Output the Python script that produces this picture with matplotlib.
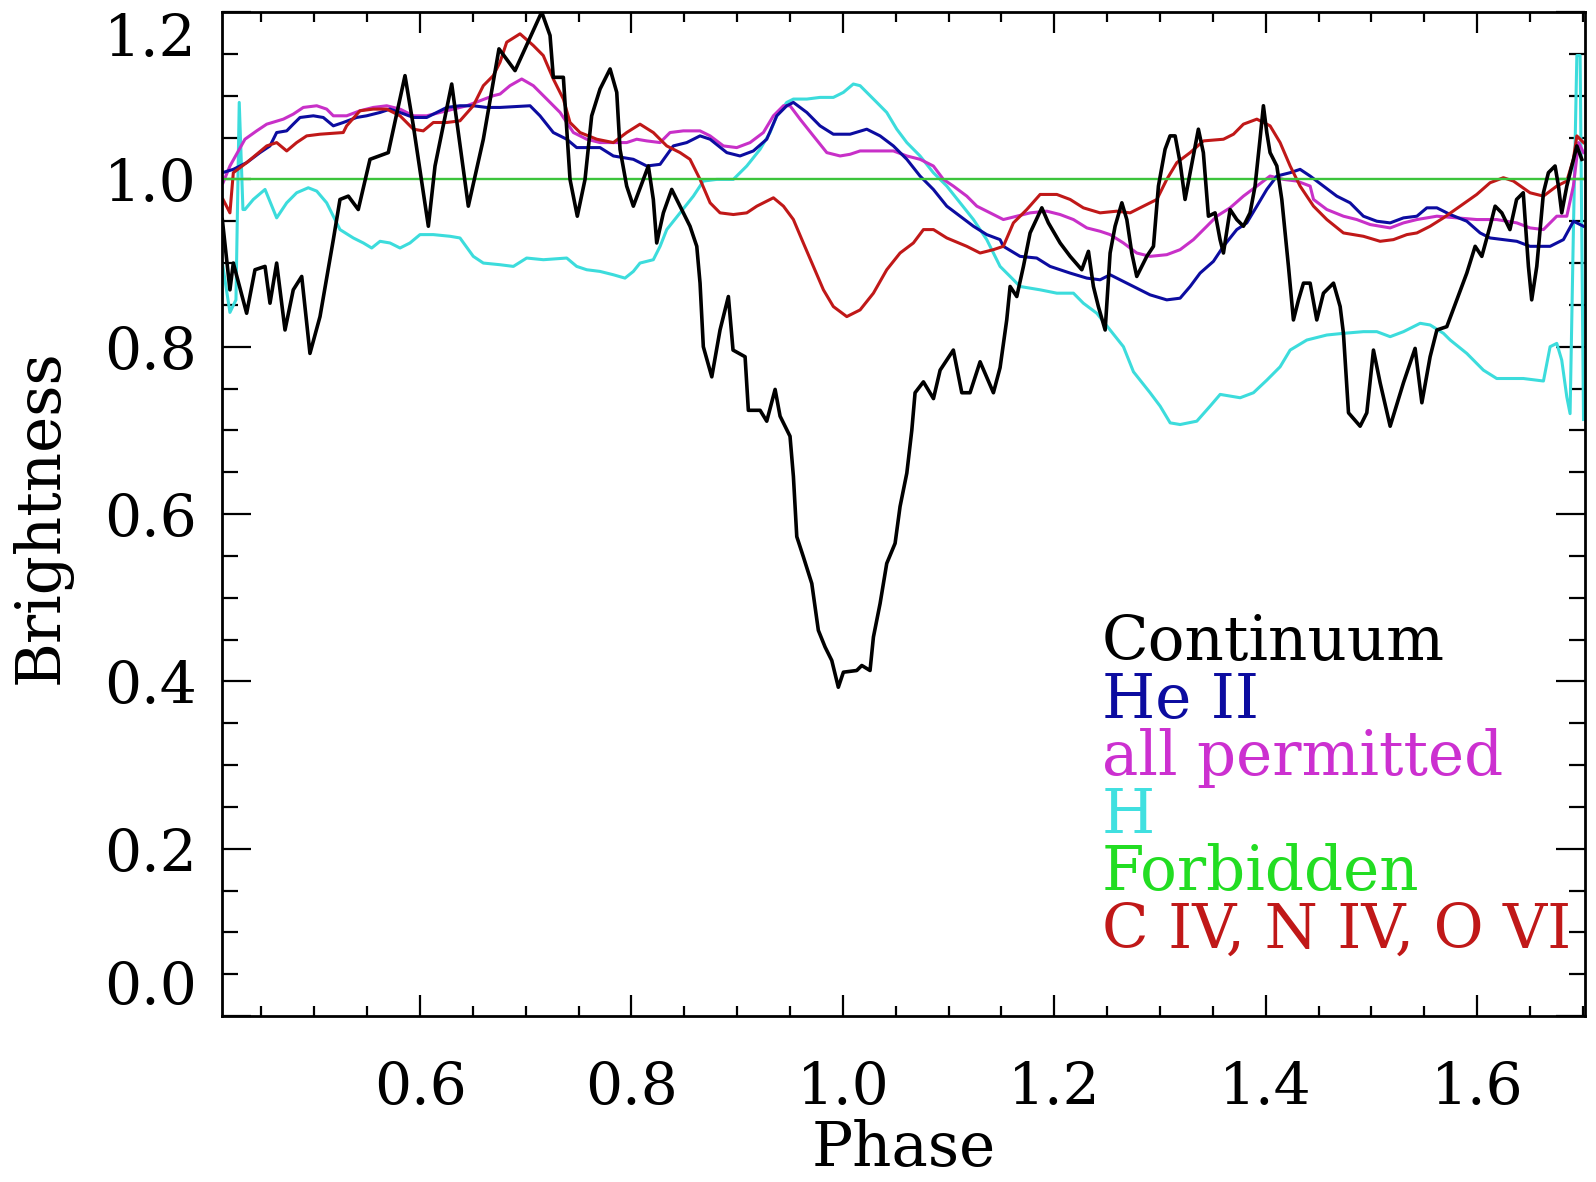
#!/usr/bin/env python3
# -*- coding: utf-8 -*-

import matplotlib
matplotlib.use('Agg')
import matplotlib.pyplot as plt
from matplotlib.ticker import MultipleLocator

# Continuum
cont_phase = [0.4130, 0.4202, 0.4234, 0.4360, 0.4439, 0.4534, 0.4581, 0.4644, 0.4723, 0.4801,
              0.4881, 0.4959, 0.5054, 0.5180, 0.5243, 0.5322, 0.5416, 0.5527, 0.5700, 0.5858,
              0.5937, 0.6079, 0.6142, 0.6300, 0.6457, 0.6599, 0.6747, 0.6899, 0.7151, 0.7230,
              0.7261, 0.7356, 0.7419, 0.7488, 0.7561, 0.7624, 0.7703, 0.7798, 0.7861, 0.7892,
              0.7955, 0.8018, 0.8113, 0.8160, 0.8207, 0.8239, 0.8302, 0.8381, 0.8476, 0.8554,
              0.8618, 0.8649, 0.8680, 0.8760, 0.8838, 0.8917, 0.8961, 0.9075, 0.9106, 0.9217,
              0.9280, 0.9359, 0.9406, 0.9500, 0.9532, 0.9564, 0.9626, 0.9706, 0.9768, 0.9832,
              0.9895, 0.9957, 1.0005, 1.0131, 1.0179, 1.0257, 1.0289, 1.0352, 1.0415, 1.0494,
              1.0541, 1.0605, 1.0652, 1.0683, 1.0762, 1.0857, 1.0920, 1.1045, 1.1125, 1.1203,
              1.1298, 1.1424, 1.1487, 1.1550, 1.1582, 1.1645, 1.1708, 1.1771, 1.1882, 1.1944,
              1.2055, 1.2150, 1.2260, 1.2323, 1.2370, 1.2417, 1.2481, 1.2528, 1.2575, 1.2639,
              1.2686, 1.2733, 1.2780, 1.2875, 1.2938, 1.2985, 1.3048, 1.3095, 1.3143, 1.3190,
              1.3237, 1.3285, 1.3363, 1.3410, 1.3458, 1.3521, 1.3568, 1.3600, 1.3663, 1.3726,
              1.3789, 1.3852, 1.3899, 1.3946, 1.3978, 1.4010, 1.4041, 1.4105, 1.4152, 1.4183,
              1.4215, 1.4262, 1.4310, 1.4357, 1.4420, 1.4483, 1.4546, 1.4641, 1.4704, 1.4735,
              1.4783, 1.4893, 1.4956, 1.5019, 1.5082, 1.5177, 1.5303, 1.5413, 1.5477, 1.5555,
              1.5619, 1.5713, 1.5808, 1.5902, 1.5981, 1.6044, 1.6122, 1.6170, 1.6233, 1.6310,
              1.6373, 1.6436, 1.6485, 1.6516, 1.6564, 1.6627, 1.6674, 1.6737, 1.6769, 1.6800,
              1.6848, 1.6895, 1.6943, 1.6990]
cont_flux = [0.952, 0.868, 0.900, 0.840, 0.892, 0.896, 0.852, 0.900, 0.820, 0.868,
             0.884, 0.792, 0.836, 0.928, 0.976, 0.980, 0.964, 1.024, 1.032, 1.124,
             1.064, 0.944, 1.016, 1.114, 0.968, 1.048, 1.156, 1.130, 1.200, 1.172,
             1.122, 1.122, 1.000, 0.956, 1.000, 1.076, 1.108, 1.132, 1.104, 1.036,
             0.992, 0.968, 1.000, 1.016, 0.976, 0.924, 0.960, 0.988, 0.964, 0.944,
             0.920, 0.876, 0.800, 0.764, 0.820, 0.860, 0.796, 0.788, 0.724, 0.724,
             0.711, 0.749, 0.717, 0.693, 0.645, 0.573, 0.549, 0.517, 0.461, 0.441,
             0.425, 0.393, 0.411, 0.413, 0.419, 0.413, 0.453, 0.493, 0.541, 0.565,
             0.609, 0.649, 0.700, 0.745, 0.758, 0.738, 0.772, 0.796, 0.745, 0.745,
             0.782, 0.745, 0.775, 0.832, 0.872, 0.860, 0.896, 0.936, 0.966, 0.948,
             0.924, 0.908, 0.892, 0.914, 0.872, 0.848, 0.820, 0.912, 0.944, 0.972,
             0.952, 0.912, 0.884, 0.908, 0.920, 0.992, 1.036, 1.052, 1.052, 1.020,
             0.976, 1.008, 1.060, 1.032, 0.956, 0.960, 0.928, 0.912, 0.964, 0.952,
             0.944, 0.960, 0.992, 1.048, 1.088, 1.056, 1.032, 1.016, 0.976, 0.936,
             0.896, 0.832, 0.856, 0.876, 0.876, 0.832, 0.864, 0.876, 0.848, 0.816,
             0.721, 0.705, 0.721, 0.796, 0.757, 0.705, 0.757, 0.798, 0.733, 0.788,
             0.820, 0.824, 0.856, 0.888, 0.920, 0.908, 0.944, 0.968, 0.960, 0.940,
             0.976, 0.984, 0.896, 0.856, 0.896, 0.984, 1.008, 1.016, 0.992, 0.960,
             0.992, 1.016, 1.040, 1.024]

# He II
heii_phase = [0.4130, 0.4234, 0.4360, 0.4486, 0.4581, 0.4644, 0.4739, 0.4801, 0.4865, 0.4991,
              0.5085, 0.5180, 0.5274, 0.5400, 0.5495, 0.5622, 0.5716, 0.5811, 0.5937, 0.6063,
              0.6158, 0.6253, 0.6378, 0.6504, 0.6631, 0.6757, 0.7041, 0.7135, 0.7261, 0.7388,
              0.7482, 0.7703, 0.7829, 0.8018, 0.8145, 0.8271, 0.8396, 0.8523, 0.8649, 0.8744,
              0.8902, 0.9027, 0.9153, 0.9280, 0.9375, 0.9469, 0.9532, 0.9659, 0.9784, 0.9910,
              1.0068, 1.0226, 1.0352, 1.0478, 1.0605, 1.0730, 1.0856, 1.0983, 1.1109, 1.1235,
              1.1361, 1.1487, 1.1518, 1.1676, 1.1834, 1.1960, 1.2150, 1.2308, 1.2433, 1.2528,
              1.2654, 1.2780, 1.2906, 1.3064, 1.3190, 1.3285, 1.3379, 1.3505, 1.3600, 1.3726,
              1.3821, 1.3916, 1.4010, 1.4105, 1.4231, 1.4325, 1.4420, 1.4546, 1.4672, 1.4798,
              1.4924, 1.5051, 1.5177, 1.5303, 1.5430, 1.5524, 1.5619, 1.5745, 1.5902, 1.6028,
              1.6122, 1.6248, 1.6375, 1.6500, 1.6690, 1.6816, 1.6911, 1.7006]
heii_flux = [1.008, 1.012, 1.020, 1.032, 1.040, 1.056, 1.058, 1.066, 1.074, 1.076,
             1.074, 1.064, 1.068, 1.074, 1.076, 1.080, 1.084, 1.080, 1.074, 1.074,
             1.080, 1.086, 1.088, 1.088, 1.086, 1.086, 1.088, 1.076, 1.056, 1.048,
             1.038, 1.038, 1.028, 1.024, 1.016, 1.018, 1.040, 1.044, 1.052, 1.048,
             1.032, 1.028, 1.034, 1.048, 1.076, 1.088, 1.092, 1.080, 1.064, 1.054,
             1.054, 1.060, 1.052, 1.040, 1.024, 1.004, 0.988, 0.968, 0.956, 0.944,
             0.934, 0.928, 0.920, 0.908, 0.906, 0.896, 0.888, 0.882, 0.880, 0.886,
             0.878, 0.870, 0.862, 0.856, 0.858, 0.872, 0.888, 0.902, 0.920, 0.940,
             0.948, 0.968, 0.988, 1.004, 1.008, 1.012, 1.004, 0.992, 0.980, 0.972,
             0.956, 0.950, 0.948, 0.954, 0.956, 0.966, 0.966, 0.958, 0.950, 0.936,
             0.930, 0.928, 0.926, 0.920, 0.920, 0.928, 0.950, 0.944]

# all permitted lines
perm_phase = [0.4137, 0.4202, 0.4344, 0.4455, 0.4550, 0.4707, 0.4801, 0.4896, 0.5023, 0.5117,
              0.5180, 0.5306, 0.5432, 0.5558, 0.5685, 0.5811, 0.5937, 0.6063, 0.6189, 0.6315,
              0.6442, 0.6568, 0.6693, 0.6757, 0.6851, 0.6962, 0.7072, 0.7199, 0.7325, 0.7451,
              0.7577, 0.7703, 0.7829, 0.7955, 0.8050, 0.8145, 0.8271, 0.8365, 0.8491, 0.8649,
              0.8744, 0.8870, 0.8996, 0.9122, 0.9248, 0.9343, 0.9438, 0.9500, 0.9595, 0.9721,
              0.9848, 0.9974, 1.0068, 1.0163, 1.0321, 1.0478, 1.0605, 1.0730, 1.0856, 1.0951,
              1.1045, 1.1172, 1.1267, 1.1393, 1.1487, 1.1518, 1.1645, 1.1771, 1.1929, 1.2055,
              1.2181, 1.2308, 1.2433, 1.2528, 1.2654, 1.2780, 1.2906, 1.3064, 1.3190, 1.3316,
              1.3443, 1.3537, 1.3663, 1.3789, 1.3916, 1.4041, 1.4168, 1.4294, 1.4420, 1.4452,
              1.4578, 1.4735, 1.4861, 1.4988, 1.5177, 1.5303, 1.5430, 1.5619, 1.5808, 1.5996,
              1.6185, 1.6375, 1.6500, 1.6627, 1.6753, 1.6848, 1.6910, 1.6959, 1.7006]
perm_flux = [0.996, 1.016, 1.048, 1.058, 1.066, 1.072, 1.078, 1.086, 1.088, 1.084,
             1.076, 1.076, 1.082, 1.086, 1.088, 1.084, 1.076, 1.076, 1.080, 1.084,
             1.088, 1.094, 1.100, 1.102, 1.112, 1.120, 1.112, 1.096, 1.080, 1.056,
             1.048, 1.044, 1.044, 1.044, 1.048, 1.046, 1.044, 1.056, 1.058, 1.058,
             1.052, 1.040, 1.038, 1.044, 1.056, 1.076, 1.088, 1.088, 1.072, 1.052,
             1.032, 1.028, 1.030, 1.034, 1.034, 1.034, 1.028, 1.024, 1.016, 1.000,
             0.992, 0.980, 0.968, 0.960, 0.954, 0.952, 0.956, 0.960, 0.962, 0.958,
             0.952, 0.942, 0.938, 0.934, 0.924, 0.912, 0.908, 0.910, 0.916, 0.928,
             0.944, 0.956, 0.966, 0.980, 0.992, 1.004, 1.000, 0.998, 0.992, 0.976,
             0.964, 0.956, 0.952, 0.946, 0.942, 0.948, 0.952, 0.956, 0.954, 0.952,
             0.952, 0.948, 0.942, 0.940, 0.956, 0.956, 0.992, 1.044, 1.032]

# H
h_phase = [0.4133, 0.4202, 0.4259, 0.4290, 0.4325, 0.4344, 0.4423, 0.4534, 0.4644, 0.4739,
           0.4833, 0.4943, 0.5023, 0.5117, 0.5180, 0.5243, 0.5369, 0.5464, 0.5543, 0.5622,
           0.5716, 0.5811, 0.5905, 0.6000, 0.6126, 0.6284, 0.6378, 0.6504, 0.6599, 0.6757,
           0.6883, 0.7009, 0.7167, 0.7388, 0.7482, 0.7577, 0.7703, 0.7829, 0.7939, 0.8018,
           0.8081, 0.8207, 0.8271, 0.8334, 0.8460, 0.8586, 0.8680, 0.8807, 0.8964, 0.9091,
           0.9217, 0.9311, 0.9375, 0.9469, 0.9532, 0.9659, 0.9784, 0.9910, 1.0005, 1.0099,
           1.0163, 1.0226, 1.0321, 1.0415, 1.0510, 1.0605, 1.0730, 1.0856, 1.0983, 1.1109,
           1.1235, 1.1361, 1.1487, 1.1582, 1.1676, 1.1866, 1.2024, 1.2181, 1.2275, 1.2402,
           1.2528, 1.2654, 1.2749, 1.2906, 1.3001, 1.3096, 1.3190, 1.3348, 1.3474, 1.3569,
           1.3758, 1.3884, 1.4010, 1.4136, 1.4231, 1.4389, 1.4578, 1.4735, 1.4924, 1.5051,
           1.5177, 1.5303, 1.5461, 1.5555, 1.5681, 1.5745, 1.5902, 1.6059, 1.6185, 1.6437,
           1.6627, 1.6690, 1.6753, 1.6800, 1.6848, 1.6879, 1.6910, 1.6943, 1.6974, 1.7006]
h_flux = [0.898, 0.841, 0.856, 1.092, 0.964, 0.964, 0.976, 0.988, 0.954, 0.972,
          0.984, 0.990, 0.986, 0.972, 0.956, 0.940, 0.930, 0.924, 0.918, 0.926,
          0.924, 0.918, 0.924, 0.934, 0.934, 0.932, 0.930, 0.908, 0.900, 0.898,
          0.896, 0.906, 0.904, 0.906, 0.896, 0.892, 0.890, 0.886, 0.882, 0.890,
          0.900, 0.904, 0.920, 0.940, 0.960, 0.980, 0.998, 1.000, 1.000, 1.016,
          1.036, 1.056, 1.076, 1.092, 1.096, 1.096, 1.098, 1.098, 1.104, 1.114,
          1.112, 1.104, 1.092, 1.080, 1.060, 1.044, 1.028, 1.008, 0.992, 0.972,
          0.952, 0.928, 0.896, 0.884, 0.872, 0.868, 0.864, 0.864, 0.852, 0.840,
          0.820, 0.800, 0.770, 0.745, 0.729, 0.709, 0.707, 0.711, 0.729, 0.743,
          0.739, 0.745, 0.760, 0.776, 0.796, 0.808, 0.814, 0.816, 0.818, 0.818,
          0.812, 0.818, 0.828, 0.826, 0.816, 0.808, 0.792, 0.772, 0.762, 0.762,
          0.759, 0.800, 0.804, 0.784, 0.740, 0.720, 0.936, 1.148, 1.148, 0.713]

# Forbidden lines
forb_phase = [0.4130, 1.7020]
forb_flux = [1.000, 1.000]

# C IV, N IV, O VI
civ_phase = [0.4137, 0.4202, 0.4234, 0.4360, 0.4550, 0.4644, 0.4739, 0.4833, 0.4928, 0.5054,
             0.5274, 0.5306, 0.5432, 0.5558, 0.5685, 0.5811, 0.5937, 0.6031, 0.6126, 0.6253,
             0.6378, 0.6504, 0.6599, 0.6693, 0.6757, 0.6820, 0.6946, 0.7072, 0.7166, 0.7261,
             0.7356, 0.7419, 0.7514, 0.7672, 0.7829, 0.7955, 0.8081, 0.8207, 0.8334, 0.8460,
             0.8554, 0.8649, 0.8744, 0.8838, 0.8964, 0.9091, 0.9186, 0.9343, 0.9438, 0.9532,
             0.9626, 0.9721, 0.9816, 0.9910, 1.0037, 1.0163, 1.0289, 1.0415, 1.0541, 1.0667,
             1.0762, 1.0857, 1.0983, 1.1172, 1.1298, 1.1424, 1.1518, 1.1613, 1.1740, 1.1866,
             1.2024, 1.2150, 1.2275, 1.2433, 1.2591, 1.2717, 1.2843, 1.2970, 1.3064, 1.3159,
             1.3285, 1.3411, 1.3600, 1.3695, 1.3789, 1.3916, 1.4041, 1.4136, 1.4231, 1.4325,
             1.4452, 1.4578, 1.4735, 1.4924, 1.5082, 1.5208, 1.5335, 1.5430, 1.5555, 1.5681,
             1.5839, 1.5996, 1.6122, 1.6248, 1.6343, 1.6500, 1.6627, 1.6753, 1.6848, 1.6910,
             1.6943, 1.7006]
civ_flux = [0.976, 0.960, 1.008, 1.020, 1.040, 1.044, 1.034, 1.044, 1.052, 1.054,
            1.056, 1.064, 1.082, 1.084, 1.084, 1.076, 1.060, 1.058, 1.068, 1.068,
            1.070, 1.088, 1.112, 1.124, 1.140, 1.164, 1.174, 1.160, 1.148, 1.120,
            1.096, 1.068, 1.056, 1.048, 1.044, 1.056, 1.066, 1.056, 1.040, 1.032,
            1.024, 1.000, 0.972, 0.960, 0.958, 0.960, 0.968, 0.978, 0.968, 0.952,
            0.924, 0.896, 0.868, 0.848, 0.836, 0.844, 0.864, 0.892, 0.912, 0.924,
            0.940, 0.940, 0.930, 0.920, 0.912, 0.916, 0.920, 0.948, 0.964, 0.982,
            0.982, 0.976, 0.966, 0.960, 0.962, 0.960, 0.968, 0.976, 1.000, 1.020,
            1.032, 1.046, 1.048, 1.054, 1.066, 1.072, 1.064, 1.044, 1.016, 0.992,
            0.968, 0.952, 0.936, 0.932, 0.926, 0.928, 0.934, 0.936, 0.944, 0.954,
            0.968, 0.982, 0.996, 1.002, 0.998, 0.984, 0.980, 0.992, 0.998, 1.024,
            1.052, 1.044]

labels = ['Continuum', 'He II', 'all permitted', 'H', 'Forbidden', 'C IV, N IV, O VI']
line_colors = ['#000000', '#0c0ca0', '#c830c8', '#3cdcdc', '#3cc43c', '#c01818']
text_colors = ['#000000', '#0c0ca0', '#cc30d0', '#40e0e0', '#22dd22', '#c01818']


def draw(ax):
    ax.plot(h_phase, h_flux, color=line_colors[3], lw=2.2)
    ax.plot(perm_phase, perm_flux, color=line_colors[2], lw=2.2)
    ax.plot(heii_phase, heii_flux, color=line_colors[1], lw=2.2)
    ax.plot(civ_phase, civ_flux, color=line_colors[5], lw=2.2)
    ax.plot(forb_phase, forb_flux, color=line_colors[4], lw=1.7)
    ax.plot(cont_phase, cont_flux, color=line_colors[0], lw=2.6)

    # IDL-style label block in the lower right corner
    for i, (lab, col) in enumerate(zip(labels, text_colors)):
        ax.text(1.245, 0.425 - i * 0.0687, lab, color=col, fontsize=44,
                va='baseline', ha='left', clip_on=True)


def style_axes(ax):
    ax.set_xlim(0.4127, 1.702)
    ax.set_ylim(0.0, 1.2)
    ax.xaxis.set_major_locator(MultipleLocator(0.2))
    ax.xaxis.set_minor_locator(MultipleLocator(0.05))
    ax.set_yticks([0.0, 0.2, 0.4, 0.6, 0.8, 1.0, 1.2])
    ax.set_yticklabels(['0.0', '0.2', '0.4', '0.6', '0.8', '1.0', '1.2'])
    ax.yaxis.set_minor_locator(MultipleLocator(0.05))
    ax.xaxis.set_major_formatter(plt.FormatStrFormatter('%.1f'))

    ax.tick_params(which='both', direction='in', top=True, right=True,
                   width=1.6, colors='black', labelsize=42)
    ax.tick_params(axis='x', which='major', length=15, pad=32)
    ax.tick_params(axis='x', which='minor', length=7.5)
    ax.tick_params(axis='y', which='major', length=21, pad=18)
    ax.tick_params(axis='y', which='minor', length=11.5)
    for sp in ax.spines.values():
        sp.set_linewidth(2.0)

    ylabs = ax.get_yticklabels()
    ylabs[0].set_va('bottom')
    ylabs[-1].set_va('top')

    ax.set_xlabel('Phase', fontsize=44, va='baseline')
    ax.xaxis.set_label_coords(0.5, -0.1494)
    ax.set_ylabel('Brightness', fontsize=44, va='baseline')
    ax.yaxis.set_label_coords(-0.1203, 0.497)


if __name__ == '__main__':
    plt.rcParams['font.family'] = ['DejaVu Serif']
    fig = plt.figure(figsize=(15.96, 11.82), dpi=100)
    ax = fig.add_axes([0.1391, 0.1404, 0.8540, 0.8494])
    draw(ax)
    style_axes(ax)
    fig.savefig('out.png', dpi=100)
